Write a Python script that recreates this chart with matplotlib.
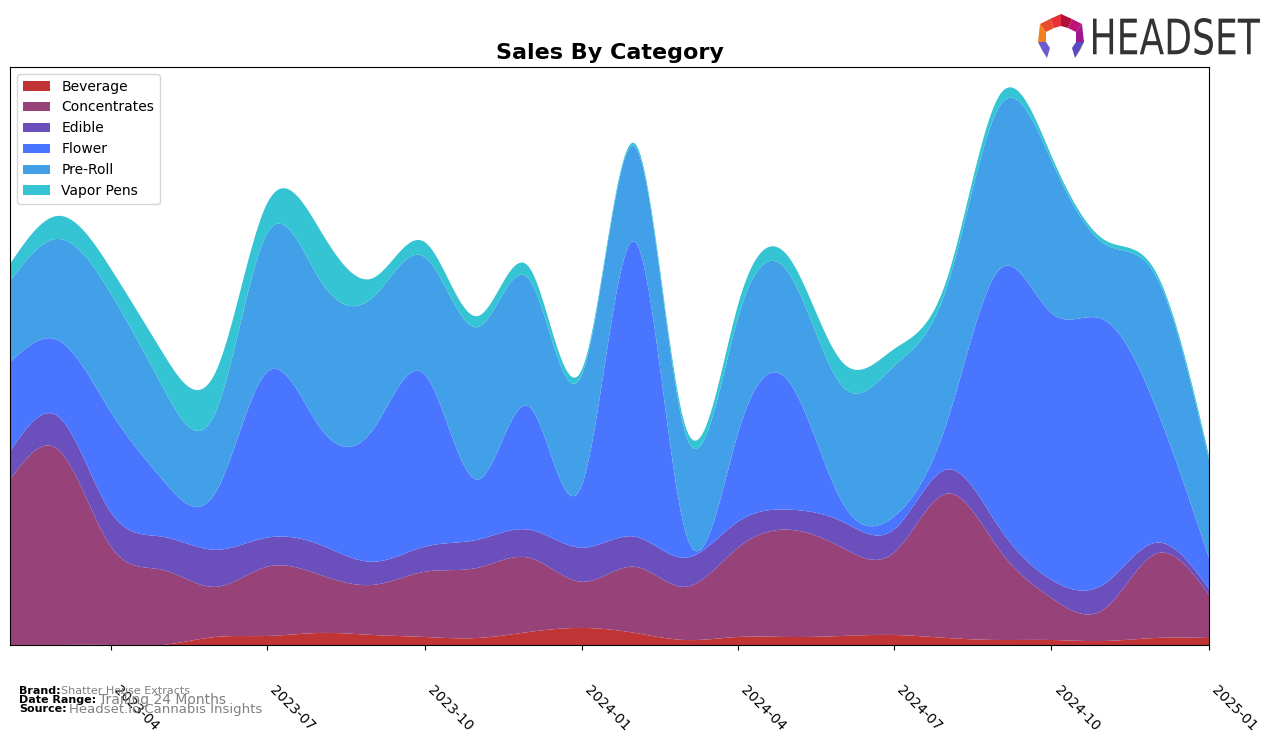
import numpy as np
import pandas as pd
import matplotlib
matplotlib.use("Agg")
import matplotlib.pyplot as plt
import matplotlib.dates as mdates
from matplotlib.patches import Polygon, PathPatch
from matplotlib.textpath import TextPath
from matplotlib.font_manager import FontProperties
from matplotlib.transforms import Affine2D

# monthly sales by category (arbitrary units)
months = pd.date_range("2023-02-01", "2025-01-01", freq="MS")
categories = ["Beverage", "Concentrates", "Edible", "Flower", "Pre-Roll", "Vapor Pens"]
beverage = [0, 0, 0, 0, 8, 9, 12, 10, 8, 7, 13, 17, 12, 5, 8, 8, 9, 10, 7, 5, 5, 4, 7, 7]
concentrates = [165, 195, 98, 75, 50, 69, 58, 50, 65, 70, 74, 46, 66, 53, 89, 107, 88, 82, 144, 89, 42, 32, 84, 43]
edible = [28, 33, 34, 33, 37, 29, 30, 23, 25, 28, 28, 34, 30, 29, 26, 20, 26, 23, 24, 22, 18, 25, 11, 6]
flower = [89, 76, 100, 57, 57, 165, 117, 132, 172, 60, 123, 63, 294, 28, 88, 127, 19, 13, 47, 259, 266, 263, 135, 31]
pre_roll = [81, 101, 118, 93, 80, 138, 147, 132, 117, 152, 127, 110, 95, 98, 115, 108, 116, 150, 135, 163, 152, 76, 131, 98]
vapor_pens = [17, 23, 25, 34, 40, 30, 50, 19, 15, 11, 12, 5, 3, 7, 13, 16, 24, 17, 8, 11, 5, 4, 4, 4]

colors = ["#c03436", "#974278", "#6a4fbd", "#4a76ff", "#41a0e8", "#35c4d3"]


def smooth(x, y, xs):
    # natural cubic spline, just for drawing the curves
    y = np.asarray(y, dtype=float)
    n = len(x)
    h = np.diff(x)
    A = np.zeros((n, n))
    rhs = np.zeros(n)
    A[0, 0] = 1
    A[-1, -1] = 1
    for i in range(1, n - 1):
        A[i, i - 1] = h[i - 1]
        A[i, i] = 2 * (h[i - 1] + h[i])
        A[i, i + 1] = h[i]
        rhs[i] = 3 * ((y[i + 1] - y[i]) / h[i] - (y[i] - y[i - 1]) / h[i - 1])
    c = np.linalg.solve(A, rhs)
    b = (y[1:] - y[:-1]) / h - h * (2 * c[:-1] + c[1:]) / 3
    d = (c[1:] - c[:-1]) / (3 * h)
    idx = np.clip(np.searchsorted(x, xs) - 1, 0, n - 2)
    dx = xs - x[idx]
    return y[idx] + b[idx] * dx + c[idx] * dx ** 2 + d[idx] * dx ** 3


x = mdates.date2num(months)
xs = np.linspace(x[0], x[-1], 600)
series = [beverage, concentrates, edible, flower, pre_roll, vapor_pens]
ys = [smooth(x, s, xs) for s in series]

fig = plt.figure(figsize=(12.76, 7.43), dpi=100)
ax = fig.add_axes([10 / 1276, 1 - 645 / 743, 1199 / 1276, 578 / 743])
ax.stackplot(mdates.num2date(xs), *ys, colors=colors, labels=categories)

total = np.sum(series, axis=0)
ax.set_xlim(months[0], months[-1])
ax.set_ylim(0, total.max() * 1.05)
ax.set_yticks([])
ax.xaxis.set_major_locator(mdates.MonthLocator(bymonth=[1, 4, 7, 10]))
ax.xaxis.set_major_formatter(mdates.DateFormatter("%Y-%m"))
ax.tick_params(axis="x", pad=24)
plt.setp(ax.get_xticklabels(), rotation=-45, ha="left", fontsize=10)
ax.set_title("Sales By Category", fontsize=16, fontweight="bold", pad=6)
ax.legend(loc="upper left", fontsize=10)

# footer
fig.text(19 / 1276, 1 - 691 / 743, "Brand:", fontsize=8, fontweight="bold", va="center")
fig.text(61 / 1276, 1 - 691 / 743, "Shatter House Extracts", fontsize=8, color="gray", va="center")
fig.text(19 / 1276, 1 - 700 / 743, "Date Range:", fontsize=8, fontweight="bold", va="center")
fig.text(99 / 1276, 1 - 700 / 743, "Trailing 24 Months", fontsize=10, color="gray", va="center")
fig.text(19 / 1276, 1 - 709 / 743, "Source:", fontsize=8, fontweight="bold", va="center")
fig.text(69 / 1276, 1 - 709 / 743, "Headset.io Cannabis Insights", fontsize=9.5, color="gray", va="center")

# logo word, squeezed into its box
tax = fig.add_axes([1088 / 1276, 1 - 62 / 743, 180 / 1276, 52 / 743])
tax.set_xlim(1088, 1268)
tax.set_ylim(743 - 62, 743 - 10)
tax.axis("off")
tp = TextPath((0, 0), "HEADSET", size=10, prop=FontProperties(family="DejaVu Sans"))
bb = tp.get_extents()
tr = Affine2D().translate(-bb.x0, -bb.y0).scale(167 / bb.width, 37 / bb.height).translate(1093, 743 - 55)
tax.add_patch(PathPatch(tr.transform_path(tp), color="#333333", lw=0))

# logo mark
lax = fig.add_axes([1036 / 1276, 1 - 60 / 743, 50 / 1276, 48 / 743])
lax.set_xlim(0, 50)
lax.set_ylim(48, 0)
lax.axis("off")
pieces = [
    ([(25, 2), (14, 7), (18, 16), (25, 14)], "#e8303a"),
    ([(25, 2), (36, 7), (32, 16), (25, 14)], "#b0103a"),
    ([(36, 7), (46, 12), (40, 20), (32, 16)], "#c0107a"),
    ([(14, 7), (4, 12), (10, 20), (18, 16)], "#e84a2a"),
    ([(4, 12), (2, 30), (10, 30), (10, 20)], "#f08020"),
    ([(46, 12), (48, 30), (40, 30), (40, 20)], "#a01890"),
    ([(2, 30), (10, 30), (14, 36), (11, 46)], "#6a5acd"),
    ([(48, 30), (40, 30), (36, 36), (39, 46)], "#5a4ac0"),
    ([(2, 30), (11, 46), (6, 38)], "#2a2a80"),
    ([(48, 30), (39, 46), (44, 38)], "#2a2a80"),
]
for pts, col in pieces:
    lax.add_patch(Polygon(pts, closed=True, color=col, lw=0))

fig.savefig("out.png", dpi=100)
